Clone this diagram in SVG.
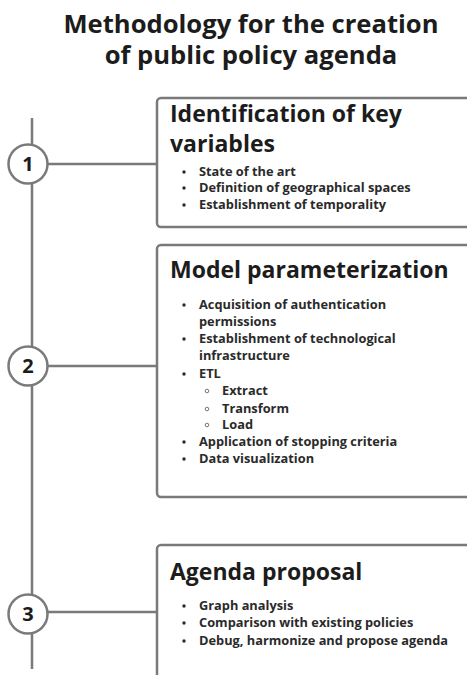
<svg xmlns="http://www.w3.org/2000/svg" width="467" height="675" viewBox="0 0 467 675">
<style>
text{font-family:"Open Sans","Noto Sans","Liberation Sans",sans-serif;font-weight:700;fill:#1c1c1c}
.title{font-size:25.6px;text-anchor:middle}
.h{font-size:23px}
.li{font-size:12.8px;fill:#2a2a2a}
.box{fill:#fff;stroke:#7a7a7a;stroke-width:2.5}
.circ{fill:#fff;stroke:#7a7a7a;stroke-width:2.5}
.num{font-size:20px;text-anchor:middle}
.ln{stroke:#7a7a7a;stroke-width:2.5;fill:none}
.dot{fill:#2a2a2a}
.sub{fill:none;stroke:#555;stroke-width:0.8}
</style>
<rect width="467" height="675" fill="#fff"/>
<g id="title">
<text class="title" x="251" y="33">Methodology for the creation</text>
<text class="title" x="251" y="64">of public policy agenda</text>
</g>
<g id="connectors">
<line class="ln" x1="32" y1="118" x2="32" y2="669"/>
<line class="ln" x1="48" y1="164" x2="157" y2="164"/>
<line class="ln" x1="48" y1="366" x2="157" y2="366"/>
<line class="ln" x1="48" y1="612" x2="157" y2="612"/>
</g>
<g id="step1">
<circle class="circ" cx="28" cy="164" r="19.5"/>
<text class="num" x="28" y="171">1</text>
</g>
<g id="step2">
<circle class="circ" cx="28" cy="366" r="19.5"/>
<text class="num" x="28" y="373">2</text>
</g>
<g id="step3">
<circle class="circ" cx="28" cy="614" r="19.5"/>
<text class="num" x="28" y="621">3</text>
</g>
<g id="box1">
<rect class="box" x="157" y="98" width="320" height="129" rx="4"/>
<text class="h" x="170" y="122">Identification of key</text>
<text class="h" x="170" y="152">variables</text>
<circle class="dot" cx="184" cy="172" r="1.7"/><text class="li" x="199" y="176">State of the art</text>
<circle class="dot" cx="184" cy="188" r="1.7"/><text class="li" x="199" y="192">Definition of geographical spaces</text>
<circle class="dot" cx="184" cy="205" r="1.7"/><text class="li" x="199" y="209">Establishment of temporality</text>
</g>
<g id="box2">
<rect class="box" x="157" y="245" width="320" height="252" rx="4"/>
<text class="h" x="170" y="278">Model parameterization</text>
<circle class="dot" cx="184" cy="305" r="1.7"/><text class="li" x="199" y="309">Acquisition of authentication</text>
<text class="li" x="199" y="326">permissions</text>
<circle class="dot" cx="184" cy="339" r="1.7"/><text class="li" x="199" y="343">Establishment of technological</text>
<text class="li" x="199" y="360">infrastructure</text>
<circle class="dot" cx="184" cy="374" r="1.7"/><text class="li" x="199" y="378">ETL</text>
<circle class="sub" cx="207" cy="391" r="1.8"/><text class="li" x="222" y="395">Extract</text>
<circle class="sub" cx="207" cy="409" r="1.8"/><text class="li" x="222" y="413">Transform</text>
<circle class="sub" cx="207" cy="425" r="1.8"/><text class="li" x="222" y="429">Load</text>
<circle class="dot" cx="184" cy="442" r="1.7"/><text class="li" x="199" y="446">Application of stopping criteria</text>
<circle class="dot" cx="184" cy="459" r="1.7"/><text class="li" x="199" y="463">Data visualization</text>
</g>
<g id="box3">
<rect class="box" x="157" y="545" width="320" height="150" rx="4"/>
<text class="h" x="170" y="580">Agenda proposal</text>
<circle class="dot" cx="184" cy="606" r="1.7"/><text class="li" x="199" y="610">Graph analysis</text>
<circle class="dot" cx="184" cy="623" r="1.7"/><text class="li" x="199" y="627">Comparison with existing policies</text>
<circle class="dot" cx="184" cy="641" r="1.7"/><text class="li" x="199" y="645">Debug, harmonize and propose agenda</text>
</g>
</svg>
